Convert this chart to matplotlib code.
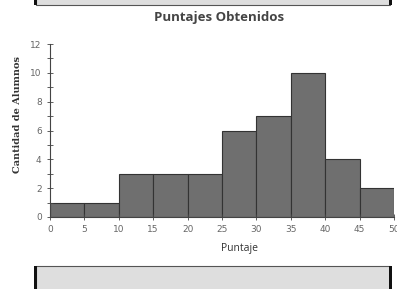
import matplotlib
matplotlib.use("Agg")
import matplotlib.pyplot as plt
import matplotlib.patches as mpatches
from matplotlib.ticker import MultipleLocator

# ── Datos ─────────────────────────────────────────────────────────────────────
bordes = [0, 5, 10, 15, 20, 25, 30, 35, 40, 45]
alumnos = [1, 1, 3, 3, 3, 6, 7, 10, 4, 2]
ancho = 5
x_ticks = [0, 5, 10, 15, 20, 25, 30, 35, 40, 45, 50]
y_ticks = [0, 2, 4, 6, 8, 10, 12]

W, H = 397, 289
fig = plt.figure(figsize=(W / 100, H / 100), dpi=100)
fig.patch.set_facecolor("white")

# ── Cadres gris du document (haut et bas) ─────────────────────────────────────
def px(x, y, w, h):
    return (x / W, 1 - (y + h) / H, w / W, h / H)

for (x, y, w, h) in [(36, -2, 354, 7), (36, 266, 354, 30)]:
    fx, fy, fw, fh = px(x, y, w, h)
    fig.add_artist(mpatches.Rectangle((fx, fy), fw, fh, transform=fig.transFigure,
                                      facecolor="#dedede", edgecolor="#555555", linewidth=0.8))
for xb in [34, 389]:
    for (y, h) in [(-2, 7), (266, 30)]:
        fx, fy, fw, fh = px(xb, y, 3, h)
        fig.add_artist(mpatches.Rectangle((fx, fy), fw, fh, transform=fig.transFigure,
                                          facecolor="#111111", edgecolor="none"))

# ── Histogramme ───────────────────────────────────────────────────────────────
ax = fig.add_axes([50 / W, 72 / H, 344 / W, 173 / H])
ax.bar(bordes, alumnos, width=ancho, align="edge", color="#6f6f6f",
       edgecolor="#333333", linewidth=0.8)

ax.set_xlim(0, 50)
ax.set_ylim(0, 12)
ax.set_xticks(x_ticks)
ax.set_yticks(y_ticks)
ax.yaxis.set_minor_locator(MultipleLocator(1))
ax.tick_params(axis="both", which="both", direction="inout", color="#444444",
               labelsize=6.5, labelcolor="#666666", width=0.6)
ax.tick_params(axis="both", which="major", length=5)
ax.tick_params(axis="y", which="minor", length=4)
ax.tick_params(axis="x", pad=3)
for s in ["top", "right"]:
    ax.spines[s].set_visible(False)
for s in ["left", "bottom"]:
    ax.spines[s].set_color("#444444")
    ax.spines[s].set_linewidth(0.8)

ax.set_xlabel("Puntaje", fontsize=7.5, color="#333333", family="Open Sans", labelpad=4)
ax.xaxis.set_label_coords(0.552, -0.15)
ax.set_ylabel("Cantidad de Alumnos", fontsize=7, color="#333333",
              family="DejaVu Serif", fontweight="bold")
ax.yaxis.set_label_coords(-0.082, 0.59)

fig.text(219 / W, 1 - 18 / H, "Puntajes Obtenidos", ha="center", va="center",
         fontsize=9.5, fontweight="bold", color="#444444", family="Open Sans")

fig.savefig("out.png", dpi=100)
plt.close(fig)
